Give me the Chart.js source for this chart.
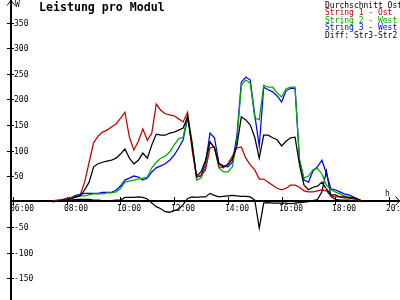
<!DOCTYPE html>
<html>
<head>
<meta charset="utf-8">
<script src="https://cdn.jsdelivr.net/npm/chart.js@4"></script>
<style>
  body { margin: 0; background: #fff; }
  canvas { display: block; }
</style>
</head>
<body>
<canvas id="chart" width="400" height="300"></canvas>
<script>
// sample times (10 min steps)
var times = [
  "07:30","07:40","07:50","08:00","08:10","08:20","08:30","08:40","08:50",
  "09:00","09:10","09:20","09:30","09:40","09:50","10:00","10:10","10:20","10:30","10:40","10:50",
  "11:00","11:10","11:20","11:30","11:40","11:50","12:00","12:10","12:20","12:30","12:40","12:50",
  "13:00","13:10","13:20","13:30","13:40","13:50","14:00","14:10","14:20","14:30","14:40","14:50",
  "15:00","15:10","15:20","15:30","15:40","15:50","16:00","16:10","16:20","16:30","16:40","16:50",
  "17:00","17:10","17:20","17:30","17:40","17:50","18:00","18:10","18:20","18:30","18:40","18:50",
  "19:00"
];

var durchschnitt = [
  0, 1, 3, 3, 5, 9, 11, 23, 38,
  68, 74, 77, 79, 81, 85, 93, 103, 85, 74, 81, 95,
  85, 111, 132, 130, 130, 134, 136, 140, 144, 166, 111, 50,
  58, 81, 117, 105, 74, 68, 72, 83, 109, 166, 160, 150,
  126, 85, 130, 130, 125, 121, 109, 118, 125, 126, 72, 32,
  23, 28, 30, 38, 25, 13, 13, 9, 9, 7, 7, 5,
  1
];
var string1Ost = [
  2, 3, 3, 5, 7, 9, 13, 38, 77,
  115, 128, 136, 140, 146, 152, 163, 175, 126, 101, 118, 142,
  120, 134, 191, 179, 172, 170, 168, 162, 156, 175, 101, 48,
  52, 62, 105, 107, 68, 66, 74, 89, 105, 107, 85, 72,
  62, 44, 44, 38, 32, 26, 23, 26, 32, 32, 28, 21,
  19, 19, 21, 23, 21, 11, 9, 9, 7, 7, 5, 3,
  1
];
var string2West = [
  0, 2, 3, 5, 7, 9, 11, 11, 13,
  15, 15, 15, 17, 17, 19, 25, 38, 40, 42, 44, 46,
  48, 66, 77, 85, 89, 97, 111, 123, 126, 170, 118, 42,
  46, 66, 117, 105, 66, 58, 58, 68, 118, 228, 238, 232,
  164, 160, 228, 224, 224, 213, 205, 221, 224, 224, 81, 46,
  50, 62, 65, 54, 32, 23, 19, 15, 11, 9, 7, 5,
  1
];
var string3West = [
  0, 2, 4, 6, 8, 12, 14, 16, 16,
  16, 16, 18, 18, 18, 22, 30, 42, 46, 50, 48, 42,
  46, 58, 66, 70, 74, 81, 91, 105, 121, 164, 111, 48,
  50, 75, 134, 125, 75, 70, 68, 77, 128, 234, 244, 238,
  170, 108, 224, 219, 215, 207, 195, 217, 222, 222, 81, 42,
  38, 60, 68, 81, 55, 25, 23, 19, 15, 13, 9, 5,
  1
];
var diffStr3Str2 = [
  0, 1, 2, 2, 3, 4, 4, 4, 4,
  3, 3, 2, 2, 2, 3, 3, 8, 8, 8, 9, 8,
  5, -3, -10, -14, -20, -21, -18, -15, -6, 6, 9, 8,
  9, 9, 16, 12, 9, 10, 11, 12, 11, 10, 10, 9,
  3, -52, -3, -2, -3, -3, -3, -3, -4, -3, -2, -1,
  0, 2, 4, 19, 60, 10, 4, 3, 3, 3, 2, 1,
  0
];

var seriesNames = ["Durchschnitt Ost", "String 1 - Ost", "String 2 - West", "String 3 - West", "Diff: Str3-Str2"];
var seriesColors = ["#000000", "#c00000", "#00a800", "#0000ff", "#000000"];
var yTicks = [-150, -100, -50, 50, 100, 150, 200, 250, 300, 350];
var xTicks = ["06:00", "08:00", "10:00", "12:00", "14:00", "16:00", "18:00", "20:00"];

var FONT = '"DejaVu Sans Mono", monospace';

function toHours(s) {
  var p = s.split(":");
  return +p[0] + (+p[1]) / 60;
}

function points(arr) {
  return times.map(function(t, i) {
    return { x: toHours(t), y: arr[i] };
  });
}

var allSeries = [durchschnitt, string1Ost, string2West, string3West, diffStr3Str2];

var datasets = allSeries.map(function(arr, i) {
  return {
    label: seriesNames[i],
    data: points(arr),
    borderColor: seriesColors[i],
    borderWidth: 1.25,
    pointRadius: 0,
    tension: 0,
    fill: false
  };
});

// axes, ticks, title and legend drawn by hand (old bitmap style)
var axesPlugin = {
  id: "axes",
  beforeDatasetsDraw: function(chart) {
    var ctx = chart.ctx;
    var xs = chart.scales.x;
    var ys = chart.scales.y;
    var ax = Math.round(chart.chartArea.left) - 1;
    var ay = Math.floor(ys.getPixelForValue(0)) - 1;

    ctx.save();
    ctx.fillStyle = "#000";
    ctx.strokeStyle = "#000";
    ctx.lineWidth = 1;

    // y axis + arrow
    ctx.fillRect(ax, 0, 2, 300);
    ctx.beginPath();
    ctx.moveTo(ax - 3, 5.5);
    ctx.lineTo(ax + 1, 0.5);
    ctx.lineTo(ax + 5, 5.5);
    ctx.stroke();

    // x axis + arrow
    ctx.fillRect(ax, ay, 400 - ax, 2);
    ctx.beginPath();
    ctx.moveTo(395.5, ay - 3.5);
    ctx.lineTo(399.5, ay + 1);
    ctx.lineTo(395.5, ay + 5.5);
    ctx.stroke();

    ctx.font = "8px " + FONT;
    // y ticks
    ctx.textAlign = "left";
    ctx.textBaseline = "middle";
    yTicks.forEach(function(v) {
      var py = Math.round(ys.getPixelForValue(v));
      ctx.fillRect(ax - 3, py, 7, 1);
      ctx.fillText(String(v), ax + 4, py + 0.5);
    });
    // x ticks
    ctx.textBaseline = "top";
    xTicks.forEach(function(lbl) {
      var px = Math.round(xs.getPixelForValue(toHours(lbl)));
      ctx.fillRect(px, ay - 3, 1, 8);
      ctx.fillText(lbl, px - 3, ay + 5);
    });

    ctx.textBaseline = "middle";
    ctx.fillText("W", ax + 5, 5);
    ctx.fillText("h", 385, 194);

    // title
    ctx.font = "bold 11.6px " + FONT;
    ctx.fillText("Leistung pro Modul", 39, 7.5);

    // legend
    ctx.font = "8px " + FONT;
    seriesNames.forEach(function(name, i) {
      ctx.fillStyle = seriesColors[i];
      ctx.fillText(name, 325, 5.5 + i * 7.6);
    });
    ctx.restore();
  }
};

var ctx = document.getElementById("chart").getContext("2d");
var myChart = new Chart(ctx, {
  type: "line",
  data: { datasets: datasets },
  options: {
    responsive: false,
    animation: false,
    devicePixelRatio: 1,
    layout: { padding: { left: 11, right: 0, top: 0, bottom: 0 } },
    plugins: {
      legend: { display: false },
      tooltip: { enabled: false }
    },
    scales: {
      x: { type: "linear", min: 5.925, max: 20.407, display: false },
      y: { min: -193, max: 395, display: false }
    }
  },
  plugins: [axesPlugin]
});
</script>
</body>
</html>
